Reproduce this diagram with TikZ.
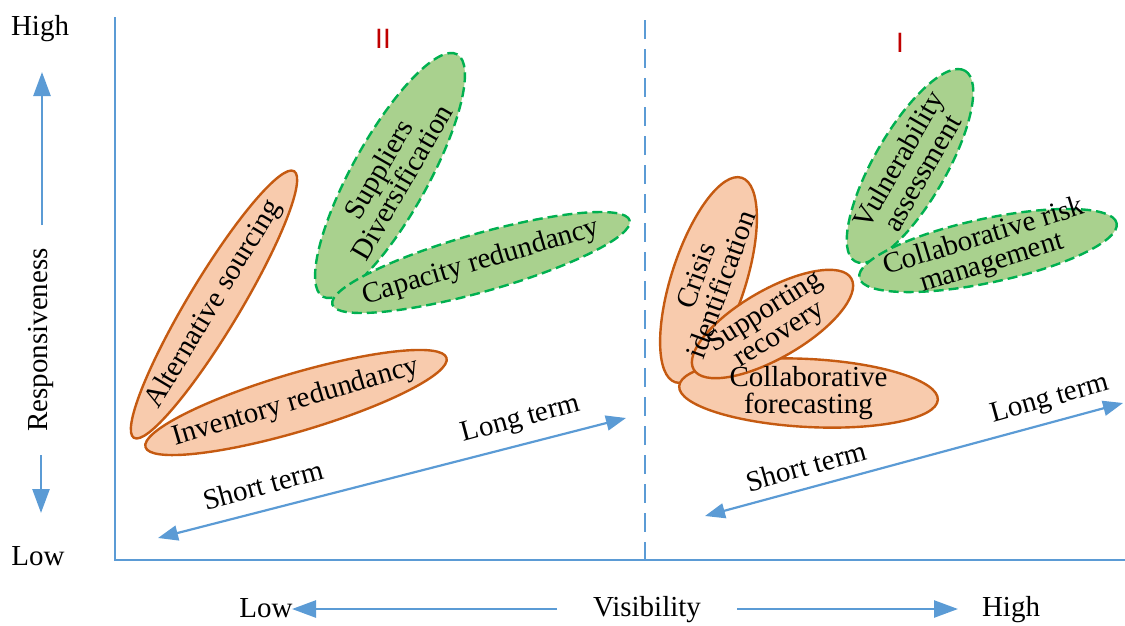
\documentclass[tikz,border=0pt]{standalone}
\usepackage{fontspec}
\setmainfont{Liberation Serif}
\setsansfont{Liberation Sans}
\usetikzlibrary{shapes.geometric,arrows.meta}
\definecolor{axisblue}{HTML}{5B9BD5}
\definecolor{ellorange}{HTML}{C55A11}
\definecolor{fillorange}{HTML}{F8CBAD}
\definecolor{ellgreen}{HTML}{00B050}
\definecolor{fillgreen}{HTML}{A9D18E}
\definecolor{numred}{HTML}{C00000}
\tikzset{
  orangeell/.style={ellipse, draw=ellorange, fill=fillorange, line width=2.4pt, inner sep=0pt},
  greenell/.style={ellipse, draw=ellgreen, fill=fillgreen, line width=2.4pt, inner sep=0pt, dash pattern=on 10pt off 5pt},
  lbl/.style={font=\fontsize{29}{27}\selectfont, inner sep=0pt},
  mlbl/.style={lbl, align=center},
  roman/.style={font=\sffamily\fontsize{28}{28}\selectfont, text=numred, inner sep=0pt},
  axisline/.style={draw=axisblue, line width=2pt},
  dbl/.style={draw=axisblue, line width=2.2pt, {Triangle[length=20pt,width=15pt,fill=axisblue]}-{Triangle[length=20pt,width=15pt,fill=axisblue]}},
  single/.style={draw=axisblue, line width=2.6pt, -{Triangle[length=24pt,width=17pt,fill=axisblue]}}
}
\begin{document}
\begin{tikzpicture}[x=1pt,y=-1pt]
\useasboundingbox (0,0) rectangle (1125,625);
% axes
\coordinate (ytop) at (114.5,17);
\coordinate (orig) at (114.5,560);
\coordinate (xend) at (1125,560);
\draw[axisline] (ytop) -- (orig) -- (xend);
\coordinate (dtop) at (645,20);
\coordinate (dbot) at (645,560);
\draw[axisline, line width=2.5pt, dash pattern=on 19pt off 10pt] (dtop) -- (dbot);
% quadrant numerals
\node[roman] (q2) at (383,39) {II};
\node[roman] (q1) at (900,43) {I};
% left cluster
\node[orangeell, rotate=59, minimum width=311pt, minimum height=52pt] (alt) at (214,304.5) {};
\node[orangeell, rotate=16.5, minimum width=314pt, minimum height=58pt] (inv) at (296,402.5) {};
\node[greenell, rotate=61, minimum width=277pt, minimum height=76pt] (sup) at (390,175.5) {};
\node[greenell, rotate=15.8, minimum width=309pt, minimum height=58pt] (cap) at (481,262.5) {};
% right cluster
\node[orangeell, rotate=72, minimum width=215pt, minimum height=74pt] (cri) at (708.5,280) {};
\node[orangeell, rotate=-3, minimum width=259pt, minimum height=68pt] (cfo) at (808.5,393) {};
\node[orangeell, rotate=30, minimum width=182pt, minimum height=68pt] (srec) at (772.5,324) {};
\node[greenell, rotate=60, minimum width=220pt, minimum height=72pt] (vul) at (910,166) {};
\node[greenell, rotate=12, minimum width=263pt, minimum height=64pt] (crm) at (988,250.5) {};
% texts
\node[lbl, rotate=59] (altT) at (alt.center) {Alternative sourcing};
\node[lbl, rotate=16.5] (invT) at (inv.center) {Inventory redundancy};
\node[mlbl, rotate=60] (supT) at (sup.center) {Suppliers\\Diversification};
\node[lbl, rotate=16.5] (capT) at (cap.center) {Capacity redundancy};
\node[mlbl, rotate=70] (criT) at (cri.center) {Crisis\\identification};
\node[mlbl, rotate=0] (cfoT) at (cfo.center) {Collaborative\\forecasting};
\node[mlbl, rotate=32] (srecT) at (srec.center) {Supporting\\recovery};
\node[mlbl, rotate=60] (vulT) at (vul.center) {Vulnerability\\assessment};
\node[mlbl, rotate=17] (crmT) at (crm.center) {Collaborative risk\\management};
% term arrows
\coordinate (ls) at (158,538);
\coordinate (ll) at (626,418);
\draw[dbl] (ls) -- (ll);
\node[lbl, rotate=15] (lst) at (263,485) {Short term};
\node[lbl, rotate=15] (llt) at (521,420) {Long term};
\coordinate (rs) at (705,516);
\coordinate (rl) at (1123,403);
\draw[dbl] (rs) -- (rl);
\node[lbl, rotate=15.5] (rst) at (806,466) {Short term};
\node[lbl, rotate=15.5] (rlt) at (1050,400) {Long term};
% y axis labels
\node[lbl] (yhigh) at (40,28.5) {High};
\node[lbl] (ylow) at (38,556) {Low};
\node[lbl, rotate=90] (yresp) at (41,340) {Responsiveness};
\coordinate (yu0) at (42,225);
\coordinate (yu1) at (42,72);
\draw[single] (yu0) -- (yu1);
\coordinate (yd0) at (41,455);
\coordinate (yd1) at (41,513);
\draw[single] (yd0) -- (yd1);
% x axis labels
\node[lbl] (xlow) at (266,608) {Low};
\node[lbl] (xvis) at (647,610) {Visibility};
\node[lbl] (xhigh) at (1011,610) {High};
\coordinate (xl0) at (557,609);
\coordinate (xl1) at (292,609);
\draw[single] (xl0) -- (xl1);
\coordinate (xr0) at (737,609);
\coordinate (xr1) at (958,609);
\draw[single] (xr0) -- (xr1);
\end{tikzpicture}
\end{document}
